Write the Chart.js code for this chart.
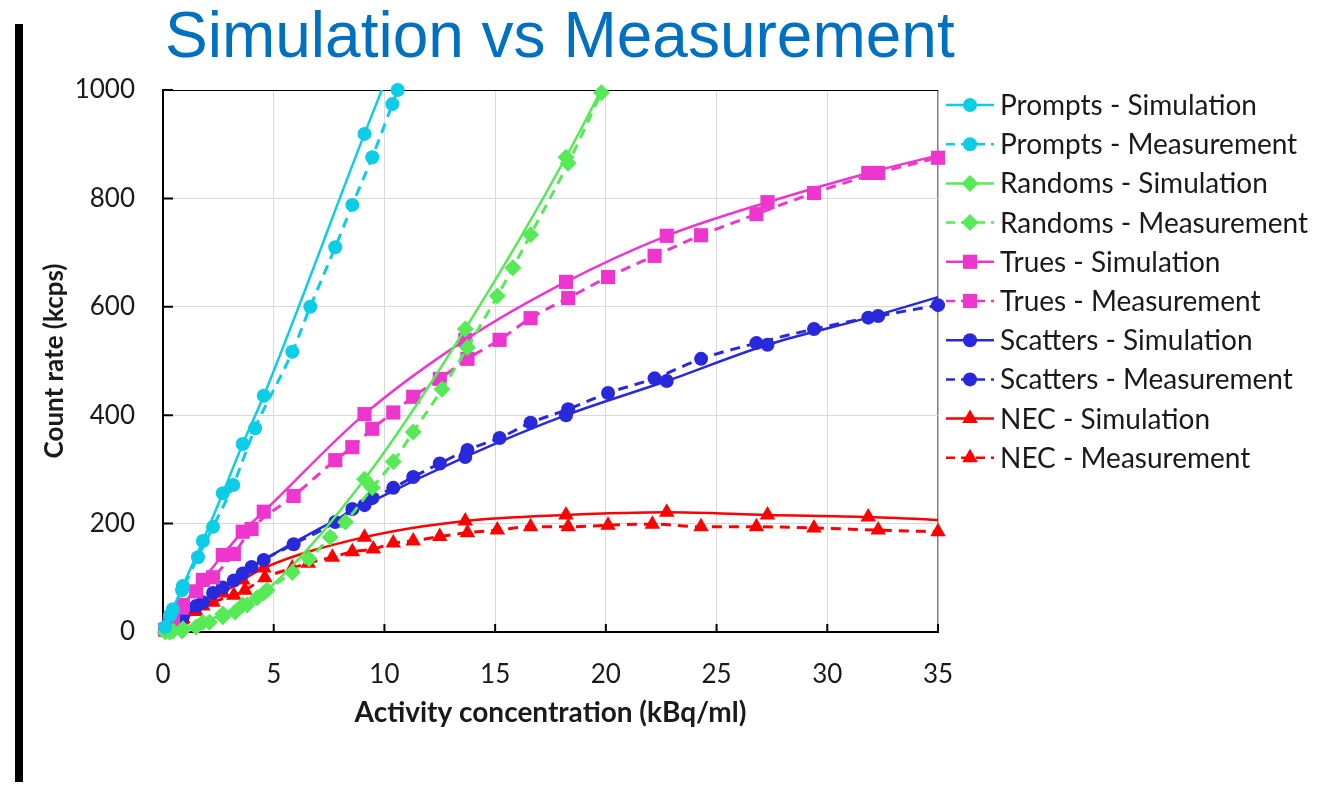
<!DOCTYPE html>
<html>
<head>
<meta charset="utf-8">
<script src="https://cdn.jsdelivr.net/npm/chart.js@4/dist/chart.umd.min.js"></script>
<style>
  html, body { margin: 0; padding: 0; background: #fff; }
  #wrap { position: relative; width: 1324px; height: 785px; }
  #chart { position: absolute; left: 0; top: 0; }
  #bar { position: absolute; left: 15px; top: 24px; width: 8px; height: 758px; background: #000; }
</style>
</head>
<body>
<div id="wrap">
  <canvas id="chart" width="1324" height="785"></canvas>
  <div id="bar"></div>
</div>
<script>
// activity concentration (kBq/ml) of the simulated points
const simActivity = [0.1, 0.45, 0.9, 1.8, 2.7, 3.6, 4.55, 9.1, 13.65, 18.2, 22.75, 27.3, 31.85, 36.4];

// simulated count rates (kcps), null = off the plot
const promptsSim  = [9, 42, 85, 168, 256, 347, 436, 919, 1390, null, null, null, null, null];
const randomsSim  = [0, 2, 6, 18, 33, 50, 72, 282, 559, 876, 1240, null, null, null];
const truesSim    = [4, 22, 50, 96, 142, 185, 222, 402, 539, 646, 731, 793, 847, 893];
const scattersSim = [3, 14, 28, 55, 82, 108, 133, 234, 323, 400, 463, 530, 580, 635];
const necSim      = [3, 12, 25, 48, 72, 96, 118, 175, 205, 216, 221, 216, 212, 204];

// measured points
const promptsMeasX = [0.32, 0.86, 1.58, 2.26, 3.17, 4.16, 5.84, 6.65, 7.78, 8.55, 9.45, 10.36, 10.6];
const promptsMeas  = [31, 77, 138, 194, 271, 376, 517, 600, 710, 788, 876, 974, 1000];

const randomsMeasX = [0.3, 0.86, 1.5, 2.1, 2.7, 3.26, 3.8, 4.25, 4.7, 5.84, 6.6, 7.55, 8.24, 9.45, 10.4, 11.3, 12.6, 13.75, 15.1, 15.8, 16.6, 18.3, 19.8];
const randomsMeas  = [0, 2, 9, 18, 28, 37, 50, 63, 77, 110, 135, 175, 203, 266, 314, 369, 448, 525, 620, 672, 733, 865, 995];

const measX        = [0.3, 0.85, 1.5, 2.26, 3.2, 4.0, 5.9, 7.78, 8.55, 9.45, 10.4, 11.3, 12.5, 13.75, 15.2, 16.6, 18.3, 20.1, 22.2, 24.3, 26.8, 29.4, 32.3, 35];
const truesMeas    = [16, 45, 75, 101, 144, 190, 251, 317, 341, 375, 405, 434, 467, 504, 539, 579, 616, 655, 694, 732, 771, 810, 847, 875];
const scattersMeas = [10, 28, 48, 72, 95, 120, 162, 203, 227, 247, 266, 286, 311, 336, 358, 386, 411, 441, 468, 504, 533, 559, 583, 603];

const necMeasX = [0.3, 0.85, 1.5, 2.26, 3.2, 3.7, 4.6, 5.84, 6.56, 7.65, 8.55, 9.5, 10.4, 11.3, 12.5, 13.75, 15.1, 16.6, 18.3, 20.1, 22.1, 24.3, 26.8, 29.4, 32.3, 35];
const necMeas  = [8, 22, 38, 55, 68, 77, 100, 118, 127, 138, 148, 153, 164, 168, 176, 183, 188, 194, 194, 197, 199, 194, 194, 192, 188, 185];

const xTicks = [0, 5, 10, 15, 20, 25, 30, 35];
const yTicks = [0, 200, 400, 600, 800, 1000];

const CYAN = '#0ccde6', GREEN = '#57ea57', MAGENTA = '#ee36cf', BLUE = '#2929dc', RED = '#ff0000';
const FONT = 'Lato, "Open Sans", sans-serif';

function pts(xs, ys) {
  return xs.map((x, i) => ({ x: x, y: ys[i] })).filter(p => p.y !== null && p.y !== undefined);
}

function series(label, xs, ys, color, style, radius, measured) {
  return {
    label: label,
    data: pts(xs, ys),
    borderColor: color,
    backgroundColor: color,
    pointBackgroundColor: color,
    pointBorderColor: color,
    borderWidth: measured ? 3 : 2.5,
    borderDash: measured ? [10, 7] : [],
    pointStyle: style,
    pointRadius: radius,
    pointBorderWidth: 0,
    cubicInterpolationMode: 'monotone',
    clip: measured ? { left: 10, top: 10, right: 10, bottom: 10 } : { left: 10, top: 0, right: 0, bottom: 10 }
  };
}

const datasets = [
  series('Prompts - Simulation', simActivity, promptsSim, CYAN, 'circle', 7, false),
  series('Prompts - Measurement', promptsMeasX, promptsMeas, CYAN, 'circle', 7, true),
  series('Randoms - Simulation', simActivity, randomsSim, GREEN, 'rectRot', 8.5, false),
  series('Randoms - Measurement', randomsMeasX, randomsMeas, GREEN, 'rectRot', 8.5, true),
  series('Trues - Simulation', simActivity, truesSim, MAGENTA, 'rect', 10, false),
  series('Trues - Measurement', measX, truesMeas, MAGENTA, 'rect', 10, true),
  series('Scatters - Simulation', simActivity, scattersSim, BLUE, 'circle', 7, false),
  series('Scatters - Measurement', measX, scattersMeas, BLUE, 'circle', 7, true),
  series('NEC - Simulation', simActivity, necSim, RED, 'triangle', 9, false),
  series('NEC - Measurement', necMeasX, necMeas, RED, 'triangle', 9, true)
];

// slide heading
const headingPlugin = {
  id: 'heading',
  afterDraw(chart) {
    const ctx = chart.ctx;
    ctx.save();
    ctx.font = '64px "Liberation Sans", Arial, sans-serif';
    ctx.fillStyle = '#0070c0';
    ctx.textBaseline = 'alphabetic';
    ctx.textAlign = 'left';
    ctx.fillText('Simulation vs Measurement', 165, 57);
    ctx.restore();
  }
};

// short inward tick marks on the two axes
const innerTicks = {
  id: 'innerTicks',
  beforeDatasetsDraw(chart) {
    const { ctx, chartArea: a, scales: { x, y } } = chart;
    ctx.save();
    ctx.strokeStyle = '#000';
    ctx.lineWidth = 2;
    ctx.beginPath();
    x.ticks.forEach(t => {
      const px = x.getPixelForValue(t.value);
      ctx.moveTo(px, a.bottom);
      ctx.lineTo(px, a.bottom - 8);
    });
    y.ticks.forEach(t => {
      const py = y.getPixelForValue(t.value);
      ctx.moveTo(a.left, py);
      ctx.lineTo(a.left + 10, py);
    });
    ctx.stroke();
    ctx.restore();
  }
};

// legend with line + marker samples, stacked on the right
const lineLegend = {
  id: 'lineLegend',
  afterDraw(chart) {
    const ctx = chart.ctx;
    ctx.save();
    chart.data.datasets.forEach((ds, i) => {
      const cy = 105 + i * 39.2;
      ctx.strokeStyle = ds.borderColor;
      ctx.lineWidth = 2.5;
      ctx.setLineDash(ds.borderDash.length ? [9, 6] : []);
      ctx.beginPath();
      ctx.moveTo(946, cy);
      ctx.lineTo(994, cy);
      ctx.stroke();
      ctx.setLineDash([]);
      ctx.fillStyle = ds.pointBackgroundColor;
      ctx.strokeStyle = ds.pointBorderColor;
      Chart.helpers.drawPoint(ctx, { pointStyle: ds.pointStyle, radius: ds.pointRadius, rotation: 0, borderWidth: 0 }, 970, cy);
      ctx.fillStyle = '#1a1a1a';
      ctx.font = '28px ' + FONT;
      ctx.textBaseline = 'middle';
      ctx.textAlign = 'left';
      ctx.fillText(ds.label, 1000, cy + 1);
    });
    ctx.restore();
  }
};

new Chart(document.getElementById('chart'), {
  type: 'line',
  data: { datasets: datasets },
  options: {
    responsive: false,
    animation: false,
    layout: { padding: { left: 0, top: 90, right: 386, bottom: 0 } },
    plugins: {
      legend: { display: false },
      title: { display: false },
      tooltip: { enabled: false }
    },
    scales: {
      x: {
        type: 'linear',
        min: 0,
        max: 35,
        afterFit(scale) { scale.height = 153; },
        afterBuildTicks(scale) { scale.ticks = xTicks.map(v => ({ value: v })); },
        border: { color: '#000', width: 2 },
        grid: {
          drawTicks: false,
          color: ctx => (ctx.tick && ctx.tick.value === 35) ? '#7f7f7f' : '#d9d9d9',
          lineWidth: ctx => (ctx.tick && ctx.tick.value === 35) ? 1.5 : 1
        },
        ticks: {
          padding: 27,
          color: '#1a1a1a',
          font: { family: FONT, size: 26 },
          callback: v => String(v)
        },
        title: {
          display: true,
          text: 'Activity concentration (kBq/ml)',
          color: '#1a1a1a',
          font: { family: FONT, size: 28, weight: 'bold' },
          padding: { top: 0, bottom: 55 }
        }
      },
      y: {
        min: 0,
        max: 1000,
        afterFit(scale) { scale.width = 163; },
        afterBuildTicks(scale) { scale.ticks = yTicks.map(v => ({ value: v })); },
        border: { color: '#000', width: 2 },
        grid: {
          drawTicks: false,
          color: ctx => (ctx.tick && ctx.tick.value === 1000) ? '#000' : '#d9d9d9',
          lineWidth: 1
        },
        ticks: {
          padding: 28,
          color: '#1a1a1a',
          font: { family: FONT, size: 26 },
          callback: v => String(v)
        },
        title: {
          display: true,
          text: 'Count rate (kcps)',
          color: '#1a1a1a',
          font: { family: FONT, size: 26, weight: 'bold' },
          padding: { top: 39, bottom: 0 }
        }
      }
    }
  },
  plugins: [innerTicks, lineLegend, headingPlugin]
});
</script>
</body>
</html>
